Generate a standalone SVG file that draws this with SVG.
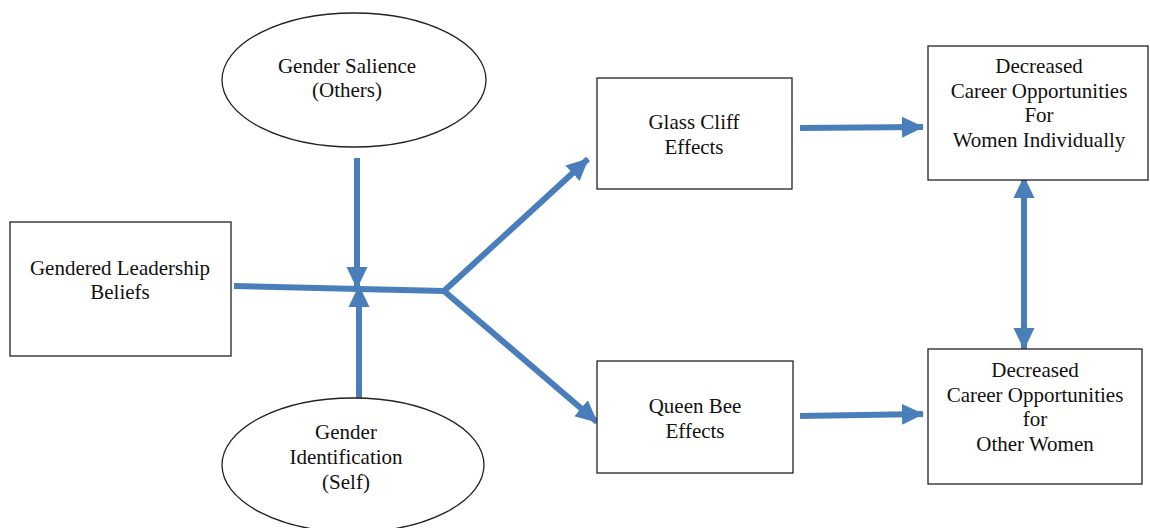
<svg xmlns="http://www.w3.org/2000/svg" width="1150" height="528" viewBox="0 0 1150 528">
<defs>
<style>
.box{fill:#fff;stroke:#222;stroke-width:1.3}
.t{font-family:"Liberation Serif","Times New Roman",serif;font-size:21px;fill:#111;text-anchor:middle}
.c{stroke:#4a7ebb;stroke-width:6;fill:none}
</style>
<marker id="ah" markerUnits="userSpaceOnUse" markerWidth="24" markerHeight="24" viewBox="0 0 24 24" refX="21" refY="12" orient="auto-start-reverse">
<polygon points="0,1.5 22,12 0,22.5" fill="#4a7ebb"/>
</marker>
</defs>
<rect width="1150" height="528" fill="#fff"/>
<g id="connectors">
<path class="c" d="M234,286 L444,291"/>
<path class="c" d="M357,158 L357,288" marker-end="url(#ah)"/>
<path class="c" d="M359,398 L359,286" marker-end="url(#ah)"/>
<path class="c" d="M444,291 L588,159" marker-end="url(#ah)"/>
<path class="c" d="M444,291 L597,422" marker-end="url(#ah)"/>
<path class="c" d="M800,128 L923,127" marker-end="url(#ah)"/>
<path class="c" d="M800,416 L923,414" marker-end="url(#ah)"/>
<path class="c" d="M1024,177 L1024,349" marker-start="url(#ah)" marker-end="url(#ah)"/>
</g>
<g id="gender-salience">
<ellipse cx="354" cy="80" rx="132" ry="67" class="box"/>
<text class="t" x="347" y="73">Gender Salience</text>
<text class="t" x="347" y="97">(Others)</text>
</g>
<g id="gendered-leadership">
<rect x="10" y="222" width="221" height="134" class="box"/>
<text class="t" x="120" y="275">Gendered Leadership</text>
<text class="t" x="120" y="299">Beliefs</text>
</g>
<g id="gender-identification">
<ellipse cx="353" cy="465" rx="131" ry="67" class="box"/>
<text class="t" x="346" y="439">Gender</text>
<text class="t" x="346" y="464">Identification</text>
<text class="t" x="346" y="489">(Self)</text>
</g>
<g id="glass-cliff">
<rect x="597" y="78" width="195" height="111" class="box"/>
<text class="t" x="694" y="129">Glass Cliff</text>
<text class="t" x="694" y="154">Effects</text>
</g>
<g id="queen-bee">
<rect x="597" y="361" width="196" height="112" class="box"/>
<text class="t" x="695" y="413">Queen Bee</text>
<text class="t" x="695" y="438">Effects</text>
</g>
<g id="career-individual">
<rect x="928" y="46" width="220" height="134" class="box"/>
<text class="t" x="1039" y="73">Decreased</text>
<text class="t" x="1039" y="98">Career Opportunities</text>
<text class="t" x="1039" y="122">For</text>
<text class="t" x="1039" y="147">Women Individually</text>
</g>
<g id="career-others">
<rect x="928" y="349" width="214" height="135" class="box"/>
<text class="t" x="1035" y="377">Decreased</text>
<text class="t" x="1035" y="402">Career Opportunities</text>
<text class="t" x="1035" y="426">for</text>
<text class="t" x="1035" y="451">Other Women</text>
</g>
</svg>
